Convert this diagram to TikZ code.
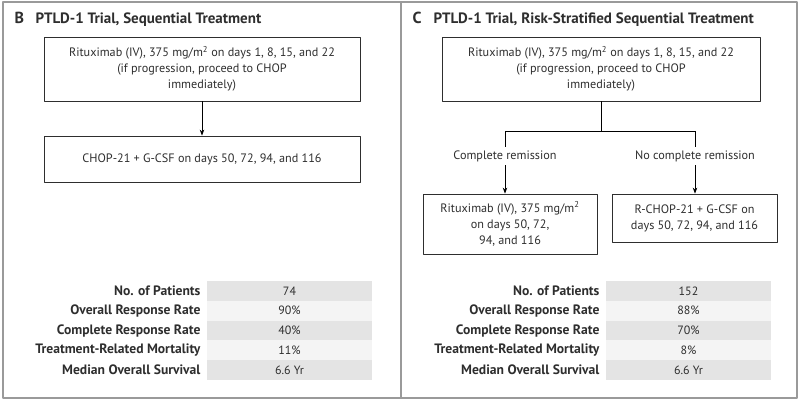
\documentclass[tikz,border=0pt]{standalone}
\usepackage{fontspec}
\setmainfont{PT Sans}
\usetikzlibrary{arrows.meta}
\definecolor{framegray}{HTML}{9A9A9A}
\definecolor{txt}{HTML}{2E2E2E}
\definecolor{row1}{HTML}{E4E4E4}
\definecolor{row0}{HTML}{F4F4F4}
\begin{document}
\begin{tikzpicture}[x=1pt,y=-1pt,>={Stealth[length=6pt,width=4.5pt]},line join=round,
		font=\fontsize{12.2}{16}\selectfont,text=txt,
		box/.style={draw=txt,line width=0.8pt,align=center,inner sep=2pt},
		panel/.style={font=\bfseries\fontsize{16}{18}\selectfont,anchor=base west},
		heading/.style={font=\bfseries\fontsize{15}{16}\selectfont,anchor=base west},
		rowlab/.style={font=\bfseries\fontsize{13.6}{14}\selectfont,anchor=east},
		rowval/.style={font=\fontsize{12}{14}\selectfont}]
	\useasboundingbox (0,0) rectangle (800,400);
	% frame
	\draw[framegray,line width=1.5pt] (3,2) rectangle (797,398) (401,2)--(401,398);
	% panel B
	\node[panel] (letB) at (11,23) {B};
	\node[heading] (headB) at (32,23) {PTLD-1 Trial, Sequential Treatment};
	\node[box,minimum width=316,minimum height=64] (ritB) at (202,69)
		{Rituximab (IV), 375 mg/m\textsuperscript{2} on days 1, 8, 15, and 22\\(if progression, proceed to CHOP\\immediately)};
	\node[box,minimum width=316,minimum height=46] (chopB) at (202,159)
		{CHOP-21 + G-CSF on days 50, 72, 94, and 116};
	\draw[->,line width=0.8pt] (ritB)--(chopB);
	% panel C
	\node[panel] (letC) at (409,23) {C};
	\node[heading] (headC) at (430,23) {PTLD-1 Trial, Risk-Stratified Sequential Treatment};
	\node[box,minimum width=318,minimum height=64] (ritC) at (601,69)
		{Rituximab (IV), 375 mg/m\textsuperscript{2} on days 1, 8, 15, and 22\\(if progression, proceed to CHOP\\immediately)};
	\coordinate (split) at (601,131);
	\coordinate (splitL) at (505,131);
	\coordinate (splitR) at (695,131);
	\node (crC) at (505,156) {Complete remission};
	\node (ncrC) at (695,156) {No complete remission};
	\node[box,minimum width=174,minimum height=60] (ritC2) at (510,224)
		{Rituximab (IV), 375 mg/m\textsuperscript{2}\\on days 50, 72,\\94, and 116};
	\node[box,minimum width=165,minimum height=48] (rchopC) at (694.5,218)
		{R-CHOP-21 + G-CSF on\\days 50, 72, 94, and 116};
	\draw[line width=0.8pt] (ritC)--(split) (splitL)--(splitR) (splitL)--(crC) (splitR)--(ncrC);
	\draw[->,line width=0.8pt] (crC)--(crC|-ritC2.north);
	\draw[->,line width=0.8pt] (ncrC)--(ncrC|-rchopC.north);
	% outcome tables
	\foreach \lab/\vb/\vc [count=\i,evaluate=\i as \r using {int(mod(\i,2))}] in
		{No. of Patients/74/152,Overall Response Rate/90\%/88\%,
		 Complete Response Rate/40\%/70\%,Treatment-Related Mortality/11\%/8\%,
		 Median Overall Survival/6.6 Yr/6.6 Yr}{
		\fill[row\r] (207,{281+19.8*(\i-1)}) rectangle (372,{281+19.8*\i});
		\fill[row\r] (606,{281+19.8*(\i-1)}) rectangle (771,{281+19.8*\i});
		\node[rowlab] (labB\i) at (204,{281+19.8*(\i-0.5)}) {\lab};
		\node[rowval] (valB\i) at (289.5,{281+19.8*(\i-0.5)}) {\vb};
		\node[rowlab] (labC\i) at (603,{281+19.8*(\i-0.5)}) {\lab};
		\node[rowval] (valC\i) at (688.5,{281+19.8*(\i-0.5)}) {\vc};
	}
\end{tikzpicture}
\end{document}
